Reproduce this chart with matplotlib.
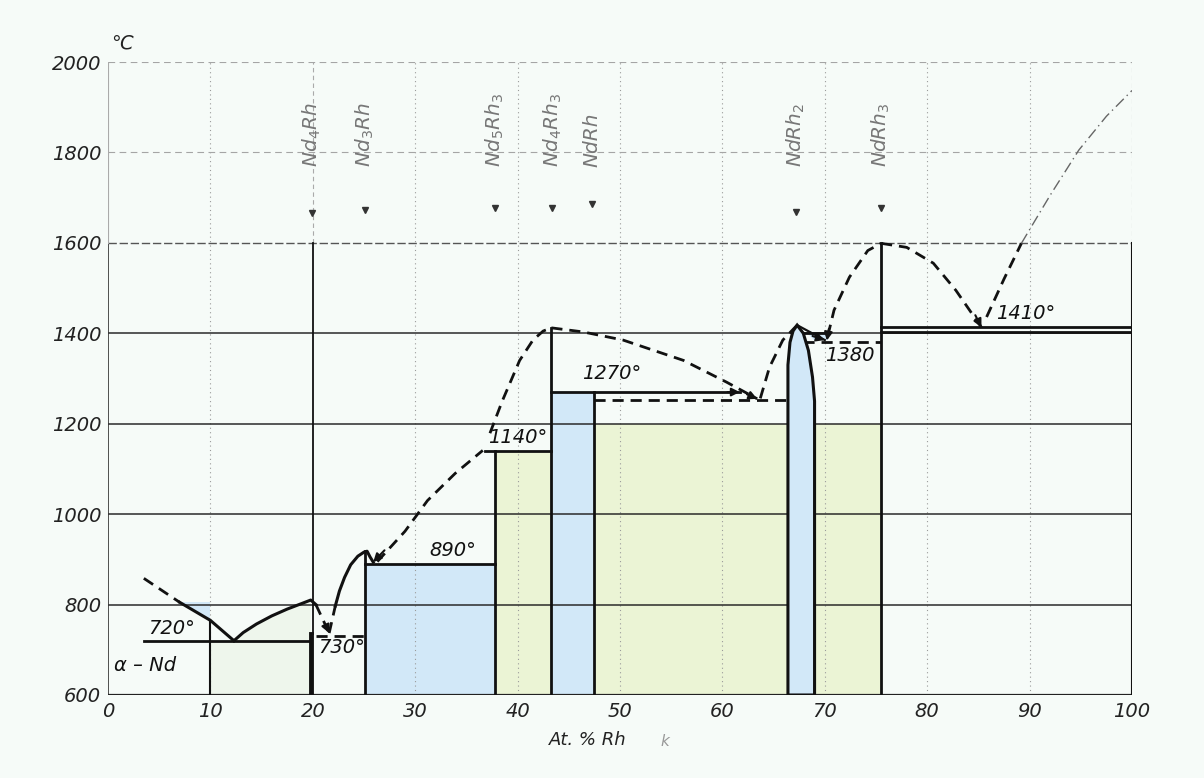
import numpy as np
import matplotlib.pyplot as plt
from matplotlib.patches import Polygon

# %%
# axes
x_ticks = list(range(0, 101, 10))
y_ticks = list(range(600, 2001, 200))

# compounds marked at the top
compounds = ['Nd$_4$Rh', 'Nd$_3$Rh', 'Nd$_5$Rh$_3$', 'Nd$_4$Rh$_3$', 'NdRh', 'NdRh$_2$', 'NdRh$_3$']
compound_x = [19.9, 25.1, 37.8, 43.4, 47.3, 67.2, 75.5]
marker_y = [1665, 1672, 1676, 1678, 1685, 1668, 1678]

# liquidus, dashed parts
liq_dash = [
    ([3.5, 7.0], [858, 805]),
    ([20.3, 21.6], [800, 737]),
    ([21.6, 22.2], [737, 797]),
    ([26.3, 29.0, 31.2, 33.9, 36.6], [895, 962, 1030, 1090, 1141]),
    ([37.3, 38.5, 40.2, 41.5, 42.5, 43.3], [1179, 1250, 1340, 1385, 1405, 1412]),
    ([43.3, 46.4, 50.3, 56.2, 60.4, 63.4], [1412, 1403, 1385, 1340, 1292, 1255]),
    ([63.7, 64.6, 65.9, 67.3], [1256, 1325, 1385, 1418]),
    ([70.3, 70.9, 72.4, 74.2, 75.5], [1395, 1451, 1524, 1583, 1599]),
    ([75.5, 78.0, 80.6, 82.8, 85.3], [1599, 1590, 1555, 1495, 1413]),
    ([85.8, 87.5, 89.2], [1436, 1520, 1599]),
]
# liquidus, extrapolated part above 1600
liq_thin_x = [89.2, 92.0, 94.8, 97.5, 100.0]
liq_thin_y = [1599, 1705, 1805, 1880, 1937]

# liquidus, solid parts
liq_solid = [
    ([7.0, 10.0, 12.3], [805, 765, 720]),
    ([12.3, 13.2, 14.5, 16.0, 17.5, 19.0, 19.8, 20.3], [720, 738, 757, 775, 790, 803, 810, 800]),
    ([22.2, 22.6, 23.1, 23.7, 24.4, 25.0, 25.3, 25.6, 25.9], [797, 830, 860, 888, 907, 916, 918, 905, 894]),
]

# invariant lines: (x start, x end, temperature)
solid_h = [(3.5, 19.8, 720), (25.1, 37.8, 890), (36.8, 43.3, 1140), (43.3, 61.7, 1270),
           (75.5, 100, 1415), (75.5, 100, 1402), (68.0, 70.3, 1400)]
dashed_h = [(20.3, 25.1, 730), (47.5, 66.4, 1252), (67.9, 75.5, 1380)]

# phase boundaries: (x, y bottom, y top, width)
verticals = [(10.0, 600, 765, 1.5), (19.8, 600, 735, 3.5), (25.1, 600, 918, 2),
             (37.8, 600, 1140, 2), (43.3, 600, 1412, 2), (47.5, 600, 1270, 2),
             (75.5, 600, 1600, 2), (100, 600, 1600, 1.5), (20.0, 735, 1600, 1.3)]

# single-phase / two-phase fields
blue_rects = [(25.1, 37.8, 890), (43.3, 47.5, 1270)]
green_rects = [(37.8, 43.3, 1140), (47.5, 66.4, 1200), (69.0, 75.5, 1200)]
lens_x = [66.4, 66.4, 66.6, 66.9, 67.3, 67.9, 68.4, 68.8, 69.0, 69.0]
lens_y = [600, 1330, 1380, 1405, 1418, 1400, 1362, 1303, 1250, 600]
pale_x = [10.0, 19.8, 19.8, 19.0, 17.5, 16.0, 14.5, 13.2, 12.3, 10.0]
pale_y = [600, 600, 810, 803, 790, 775, 757, 738, 720, 720]

# temperature labels
labels = ['α – Nd', '720°', '730°', '890°', '1140°', '1270°', '1380', '1410°']
label_x = [0.6, 3.9, 20.5, 31.4, 37.1, 46.3, 70.0, 86.7]
label_y = [666, 748, 704, 920, 1170, 1311, 1351, 1444]

# arrow heads (tip, tail)
arrows = [((25.9, 894), (27.0, 920)), ((21.6, 737), (21.2, 757)), ((61.7, 1270), (60.5, 1270)),
          ((63.4, 1255), (62.4, 1265)), ((70.0, 1385), (68.8, 1394)), ((70.2, 1384), (70.4, 1410)),
          ((85.3, 1413), (84.7, 1440))]

bg = '#f6fbf8'
blue = '#d2e8f8'
green = '#ebf4d5'
pale = '#eef6ec'

plt.rcParams['font.family'] = ['DejaVu Sans']
fig = plt.figure(figsize=(12.04, 7.78), dpi=100, facecolor=bg)
ax = fig.add_axes([0.0897, 0.1067, 0.8505, 0.8136], facecolor=bg)
ax.set_xlim(0, 100)
ax.set_ylim(600, 2000)

# fields
for x0, x1, top in blue_rects:
    ax.fill_between([x0, x1], 600, top, color=blue, lw=0, zorder=1)
for x0, x1, top in green_rects:
    ax.fill_between([x0, x1], 600, top, color=green, lw=0, zorder=1)
ax.add_patch(Polygon(list(zip(pale_x, pale_y)), closed=True, fc=pale, ec='none', zorder=1))
ax.add_patch(Polygon(list(zip(lens_x, lens_y)), closed=True, fc=blue, ec='#111', lw=2.2, zorder=4))
ax.add_patch(Polygon([(7.0, 805), (10.0, 805), (10.0, 765)], closed=True, fc=blue, ec='none', zorder=1))
ax.add_patch(Polygon([(68.3, 1400), (70.3, 1400), (70.3, 1385), (68.9, 1385)], closed=True,
                     fc=blue, ec='none', zorder=1))

# grid
for xv in x_ticks[1:-1]:
    if xv != 20:
        ax.plot([xv, xv], [600, 2000], color='#9a9a9a', lw=0.8, ls=(0, (1, 3)), zorder=2)
ax.plot([20, 20], [1600, 2000], color='#aaaaaa', lw=0.8, ls=(0, (4, 3)), zorder=2)
ax.plot([100, 100], [1600, 2000], color='#aaaaaa', lw=0.8, ls=(0, (4, 3)), zorder=2)
for yv in [800, 1000, 1200, 1400]:
    ax.plot([0, 100], [yv, yv], color='#2a2a2a', lw=1.1, zorder=2)
ax.plot([0, 100], [1600, 1600], color='#555555', lw=1.0, ls=(0, (6, 2)), zorder=2)
for yv in [1800, 2000]:
    ax.plot([0, 100], [yv, yv], color='#a5a5a5', lw=0.8, ls=(0, (6, 4)), zorder=2)
ax.plot([0, 0], [600, 1600], color='#333333', lw=1.2, zorder=2)
ax.plot([0, 0], [1600, 2000], color='#aaaaaa', lw=0.8, zorder=2)
ax.plot([0, 100], [600, 600], color='#222222', lw=1.6, zorder=3)

# phase diagram lines
for x, y0, y1, w in verticals:
    ax.plot([x, x], [y0, y1], color='#111', lw=w, zorder=3)
for x0, x1, t in solid_h:
    ax.plot([x0, x1], [t, t], color='#111', lw=2, zorder=3)
for x0, x1, t in dashed_h:
    ax.plot([x0, x1], [t, t], color='#111', lw=2, ls=(0, (4, 2.5)), zorder=3)
for xs, ys in liq_dash:
    ax.plot(xs, ys, color='#111', lw=2, ls=(0, (4, 2.5)), zorder=3)
for xs, ys in liq_solid:
    ax.plot(xs, ys, color='#111', lw=2.2, zorder=3)
ax.plot(liq_thin_x, liq_thin_y, color='#666', lw=1, ls=(0, (8, 3, 1, 3)), zorder=3)
ax.plot([67.3, 70.0], [1418, 1385], color='#111', lw=1.6, zorder=3)

for tip, tail in arrows:
    ax.annotate('', xy=tip, xytext=tail,
                arrowprops=dict(arrowstyle='-|>', color='#111', lw=1.5, mutation_scale=12,
                                shrinkA=0, shrinkB=0), zorder=5)

# compounds
for name, cx, my in zip(compounds, compound_x, marker_y):
    ax.plot(cx, my, marker='v', ms=5, color='#333', zorder=4)
    ax.text(cx, 1768, name, rotation=90, ha='center', va='bottom', fontsize=14.5,
            style='italic', color='#777', zorder=4)

for txt, lx, ly in zip(labels, label_x, label_y):
    ax.text(lx, ly, txt, fontsize=14, style='italic', color='#111', va='center', ha='left', zorder=6)

# ticks
ax.set_xticks(x_ticks)
ax.set_xticklabels([str(v) for v in x_ticks], fontsize=14, style='italic', color='#222')
ax.set_yticks(y_ticks)
ax.set_yticklabels([str(v) for v in y_ticks], fontsize=14, style='italic', color='#222')
ax.tick_params(length=0, pad=5)
for s in ax.spines.values():
    s.set_visible(False)

ax.text(1.4, 2043, '℃', fontsize=14, style='italic', color='#222', ha='center', va='center', clip_on=False)
fig.text(588 / 1204, 1 - 740 / 778, 'At. % Rh', fontsize=13, style='italic', color='#222', ha='center', va='center')
fig.text(665 / 1204, 1 - 742 / 778, 'k', fontsize=11, style='italic', color='#999', ha='center', va='center')

fig.savefig('out.png', dpi=100, facecolor=bg)
